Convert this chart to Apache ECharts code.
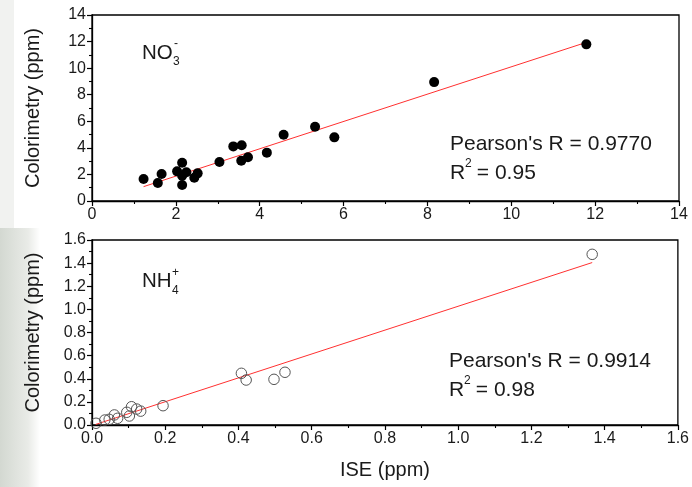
<!DOCTYPE html>
<html>
<head>
    <meta charset="utf-8">
    <script src="https://cdn.jsdelivr.net/npm/echarts@6/dist/echarts.min.js"></script>
    <style>
        html, body { margin: 0; padding: 0; background: #fff; }
        #main { width: 692px; height: 487px; }
    </style>
</head>
<body>
    <div id="main"></div>
    <script type="text/javascript">
        // NO3- panel (ISE vs colorimetry, ppm)
        var no3X = [1.23, 1.57, 1.66, 2.03, 2.15, 2.15, 2.15, 2.25, 2.44, 2.52, 3.04, 3.37, 3.57, 3.56, 3.72, 4.17, 4.57, 5.32, 5.78, 8.16, 11.79];
        var no3Y = [1.66, 1.35, 2.03, 2.23, 2.88, 1.20, 1.90, 2.16, 1.75, 2.08, 2.93, 4.11, 4.19, 3.03, 3.29, 3.64, 4.99, 5.59, 4.79, 8.95, 11.79];
        var no3FitX = [1.23, 11.79];
        var no3FitY = [1.08, 11.94];

        // NH4+ panel
        var nh4X = [0.011, 0.035, 0.047, 0.061, 0.070, 0.095, 0.102, 0.108, 0.122, 0.133, 0.194, 0.408, 0.421, 0.497, 0.527, 1.366];
        var nh4Y = [0.015, 0.043, 0.049, 0.087, 0.058, 0.110, 0.078, 0.158, 0.138, 0.120, 0.167, 0.447, 0.389, 0.395, 0.456, 1.476];
        var nh4FitX = [0.01, 1.366];
        var nh4FitY = [0.005, 1.405];

        function pairs(xs, ys) {
            return xs.map(function (x, i) { return [x, ys[i]]; });
        }

        var font = '"Liberation Sans", Arial, sans-serif';
        var ink = '#1a1a1a';

        function axisBase(min, max, interval, digits) {
            return {
                min: min, max: max, interval: interval,
                axisLine: { show: true, onZero: false, lineStyle: { color: '#000', width: 1.3 } },
                axisTick: { show: true, length: 5, lineStyle: { color: '#000', width: 1.2 } },
                minorTick: { show: true, splitNumber: 2, length: 3, lineStyle: { color: '#000', width: 1.1 } },
                splitLine: { show: false },
                axisLabel: {
                    fontFamily: font, fontSize: 16, color: ink, margin: 6,
                    formatter: function (v) { return digits ? v.toFixed(digits) : String(v); }
                }
            };
        }

        var nameStyle = { fontFamily: font, fontSize: 20, color: ink };

        var chart = echarts.init(document.getElementById('main'));

        var xs = [
            Object.assign(axisBase(0, 14, 2, 0), { gridIndex: 0 }),
            Object.assign(axisBase(0, 1.6, 0.2, 1), {
                gridIndex: 1, name: 'ISE (ppm)', nameLocation: 'middle', nameGap: 35, nameTextStyle: nameStyle
            })
        ];
        var ys = [
            Object.assign(axisBase(0, 14, 2, 0), {
                gridIndex: 0, name: 'Colorimetry (ppm)', nameLocation: 'middle', nameGap: 49, nameTextStyle: nameStyle
            }),
            Object.assign(axisBase(0, 1.6, 0.2, 1), {
                gridIndex: 1, name: 'Colorimetry (ppm)', nameLocation: 'middle', nameGap: 49, nameTextStyle: nameStyle
            })
        ];

        function txt(x, y, s, size) {
            return {
                type: 'text', x: x, y: y, z: 100,
                style: { text: s, fontFamily: font, fontSize: size, fill: ink, textVerticalAlign: 'middle' }
            };
        }

        chart.setOption({
            animation: false,
            backgroundColor: '#fff',
            grid: [
                { left: 92, top: 15, width: 587, height: 186, show: true, borderColor: '#000', borderWidth: 1.3 },
                { left: 92, top: 240, width: 587, height: 185, show: true, borderColor: '#000', borderWidth: 1.3 }
            ],
            xAxis: xs,
            yAxis: ys,
            graphic: [
                {
                    type: 'rect', z: -10, silent: true,
                    shape: { x: 0, y: 228, width: 40, height: 259 },
                    style: { fill: new echarts.graphic.LinearGradient(0, 0, 1, 0, [
                        { offset: 0, color: '#d3d8d1' }, { offset: 0.7, color: '#e9ebe7' }, { offset: 1, color: '#ffffff' }
                    ]) }
                },
                {
                    type: 'rect', z: -10, silent: true,
                    shape: { x: 0, y: 0, width: 14, height: 228 },
                    style: { fill: '#f1f2f0' }
                },
                txt(142, 53, 'NO', 20.5),
                txt(173, 62, '3', 12),
                txt(174, 44, '-', 12),
                txt(450, 144, "Pearson's R = 0.9770", 21),
                txt(450, 173, 'R', 21),
                txt(465, 164, '2', 12),
                txt(471, 173, ' = 0.95', 21),
                txt(142, 281, 'NH', 20.5),
                txt(172, 291, '4', 12),
                txt(172, 273, '+', 12),
                txt(449, 361, "Pearson's R = 0.9914", 21),
                txt(449, 390, 'R', 21),
                txt(464, 381, '2', 12),
                txt(470, 390, ' = 0.98', 21)
            ],
            series: [
                {
                    type: 'line', xAxisIndex: 0, yAxisIndex: 0, data: pairs(no3FitX, no3FitY),
                    symbol: 'none', lineStyle: { color: '#ff3030', width: 1 }, z: 1
                },
                {
                    type: 'scatter', xAxisIndex: 0, yAxisIndex: 0, data: pairs(no3X, no3Y),
                    symbol: 'circle', symbolSize: 10, itemStyle: { color: '#000', opacity: 1 }, z: 2
                },
                {
                    type: 'line', xAxisIndex: 1, yAxisIndex: 1, data: pairs(nh4FitX, nh4FitY),
                    symbol: 'none', lineStyle: { color: '#ff3030', width: 1 }, z: 1
                },
                {
                    type: 'scatter', xAxisIndex: 1, yAxisIndex: 1, data: pairs(nh4X, nh4Y),
                    symbol: 'circle', symbolSize: 10.5,
                    itemStyle: { color: 'rgba(255,255,255,0)', borderColor: '#555', borderWidth: 1, opacity: 1 }, z: 2
                }
            ]
        });
    </script>
</body>
</html>
